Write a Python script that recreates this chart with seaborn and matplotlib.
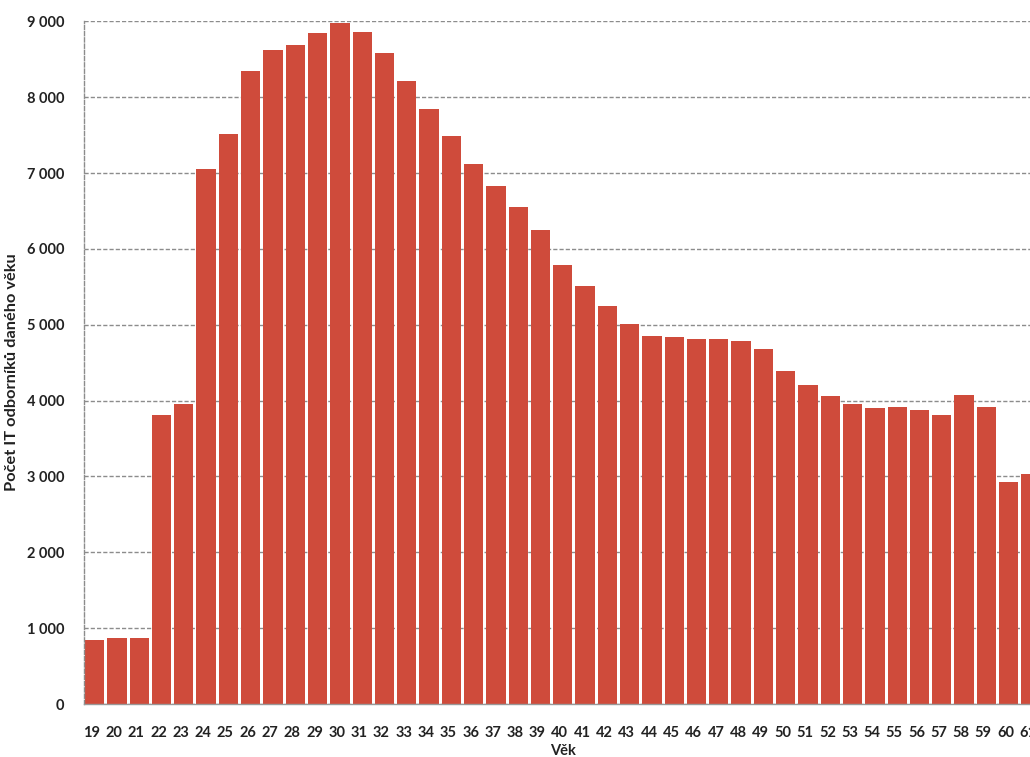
import matplotlib
matplotlib.use("Agg")
import matplotlib.pyplot as plt
import matplotlib.ticker as mticker
import matplotlib.transforms as mtransforms
import seaborn as sns
import pandas as pd

# Number of IT specialists by age
ages = list(range(19, 62))
counts = [845, 867, 868, 3815, 3956, 7052, 7518, 8347, 8628, 8685,
          8843, 8981, 8855, 8578, 8217, 7839, 7483, 7123, 6824, 6551,
          6251, 5792, 5511, 5242, 5010, 4854, 4841, 4815, 4806, 4784,
          4678, 4390, 4210, 4060, 3960, 3905, 3915, 3880, 3815, 4075,
          3920, 2925, 3030]
y_ticks = [0, 1000, 2000, 3000, 4000, 5000, 6000, 7000, 8000, 9000]

x_label = "Věk"
y_label = "Počet IT odborníků daného věku"

df = pd.DataFrame({"age": [str(a) for a in ages], "count": counts})

sns.set_theme(style="white")
plt.rcParams["font.family"] = ["Lato", "DejaVu Sans"]

fig = plt.figure(figsize=(10.30, 7.57), dpi=100)
# the plotting area runs past the right edge of the page
ax = fig.add_axes([0.0811, 0.070, 0.9306, 0.9018])

sns.barplot(data=df, x="age", y="count", color="#cf4b3b", saturation=1,
            width=0.866, edgecolor="none", ax=ax)

ax.set_ylim(0, 9000)
ax.set_xlim(-0.5, len(ages) - 0.5)
ax.set_yticks(y_ticks)
ax.yaxis.set_major_formatter(
    mticker.FuncFormatter(lambda v, p: f"{int(v):,}".replace(",", " ")))

ax.set_axisbelow(True)
ax.yaxis.grid(True, color="#8c8c8c", linewidth=1.0, linestyle=(0, (3, 1.5)))
ax.xaxis.grid(False)

for side in ("top", "right"):
    ax.spines[side].set_visible(False)
ax.spines["left"].set_color("#8c8c8c")
ax.spines["left"].set_linestyle((0, (3, 1.5)))
ax.spines["left"].set_linewidth(1.0)
ax.spines["bottom"].set_color("#999999")
ax.spines["bottom"].set_linewidth(1.0)

# tick marks sit between the categories; labels under each bar
ax.set_xticks([i - 0.5 for i in range(len(ages) + 1)], minor=True)
ax.tick_params(axis="x", which="major", length=0, pad=16)
ax.tick_params(axis="x", which="minor", length=4, width=1, color="#999999",
               direction="out")
ax.tick_params(axis="y", which="major", length=4, width=1, color="#8c8c8c",
               direction="out", pad=10)
ax.tick_params(axis="both", labelsize=10.5)
shift = mtransforms.ScaledTranslation(-3 / 100, 0, fig.dpi_scale_trans)
for lab in ax.get_xticklabels():
    lab.set_transform(lab.get_transform() + shift)
for lab in ax.get_xticklabels() + ax.get_yticklabels():
    lab.set_fontweight("bold")
    lab.set_color("#222222")

ax.set_xlabel(x_label, fontsize=10.5, fontweight="bold", color="#222222",
              labelpad=3)
ax.set_ylabel(y_label, fontsize=11.8, fontweight="bold", color="#222222")
ax.yaxis.set_label_coords(-0.067, 0.486)

fig.savefig("out.png", dpi=100, facecolor="white")
